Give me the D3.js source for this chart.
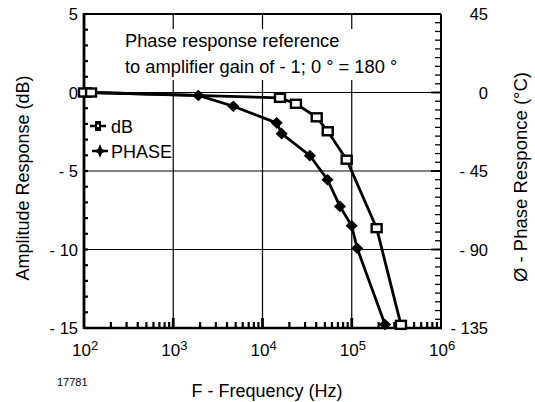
<!DOCTYPE html>
<html><head><meta charset="utf-8">
<script src="https://cdn.jsdelivr.net/npm/d3@7"></script>
<style>
html,body{margin:0;padding:0;background:#fff;}
svg{display:block;font-family:"Liberation Sans",Arial,Helvetica,sans-serif;}
</style></head>
<body>
<svg id="c" width="535" height="402"></svg>
<script>
// ---- data ----
const dbFreq = [100, 120, 15700, 23700, 40500, 53800, 87700, 190000, 356000];
const dbVals = [0, 0, -0.34, -0.72, -1.58, -2.47, -4.28, -8.64, -14.8];
const phaseFreq = [100, 120, 1910, 4710, 14400, 16400, 34000, 53500, 73800, 99800, 115000, 236000];
const phaseVals = [0, 0, -1.7, -7.9, -17.4, -23.6, -36.2, -50, -65.3, -76.4, -89.3, -133];
const xDecades = [2, 3, 4, 5, 6];
const yLeftTicks = [5, 0, -5, -10, -15];
const yLeftLabels = ["5", "0", "- 5", "- 10", "- 15"];
const yRightTicks = [45, 0, -45, -90, -135];
const yRightLabels = ["45", "0", "- 45", "- 90", "- 135"];
const noteLines = ["Phase response reference", "to amplifier gain of - 1; 0 \u00b0 = 180 \u00b0"];
const legendNames = ["dB", "PHASE"];

const svg = d3.select("#c");
const L = 84, R = 441, T = 14, B = 328;
const x = d3.scaleLog().domain([1e2, 1e6]).range([L, R]);
const y = d3.scaleLinear().domain([-15, 5]).range([B, T]);
const yp = d3.scaleLinear().domain([-135, 45]).range([B, T]);

// gridlines
const g = svg.append("g");
[1e3, 1e4, 1e5].forEach(v => g.append("line").attr("x1", x(v)).attr("x2", x(v)).attr("y1", T).attr("y2", B)
  .attr("stroke", "#000").attr("stroke-width", 1.2));
[0, -5, -10].forEach(v => g.append("line").attr("x1", L).attr("x2", R).attr("y1", y(v)).attr("y2", y(v))
  .attr("stroke", "#000").attr("stroke-width", 1.2));

// white note box
svg.append("rect").attr("x", 118).attr("y", 29).attr("width", 292).attr("height", 51).attr("fill", "#fff");
svg.append("g").selectAll("text").data(noteLines).join("text")
  .attr("x", 125).attr("y", (d, i) => 47 + i * 26)
  .attr("font-size", 18.3).attr("fill", "#000").text(d => d);

// minor ticks bottom
const minor = [];
for (let e = 2; e < 6; e++) for (let k = 2; k <= 9; k++) minor.push(k * Math.pow(10, e));
svg.append("g").selectAll("line").data(minor).join("line")
  .attr("x1", d => x(d)).attr("x2", d => x(d)).attr("y1", B).attr("y2", B - 6)
  .attr("stroke", "#000").attr("stroke-width", 2.2);
svg.append("g").selectAll("line").data([1e3, 1e4, 1e5]).join("line")
  .attr("x1", d => x(d)).attr("x2", d => x(d)).attr("y1", B).attr("y2", B - 10)
  .attr("stroke", "#000").attr("stroke-width", 2.8);
// left minor ticks every 1 dB
svg.append("g").selectAll("line").data(d3.range(-15, 6, 1)).join("line")
  .attr("x1", L).attr("x2", L + 4).attr("y1", d => y(d)).attr("y2", d => y(d))
  .attr("stroke", "#000").attr("stroke-width", 2.2);
// right minor ticks every 5 deg
svg.append("g").selectAll("line").data(d3.range(-135, 46, 5)).join("line")
  .attr("x1", R).attr("x2", R - 6).attr("y1", d => yp(d)).attr("y2", d => yp(d))
  .attr("stroke", "#000").attr("stroke-width", 1.3);
svg.append("g").selectAll("line").data(yRightTicks).join("line")
  .attr("x1", R).attr("x2", R - 10).attr("y1", d => yp(d)).attr("y2", d => yp(d))
  .attr("stroke", "#000").attr("stroke-width", 1.8);

// frame
svg.append("line").attr("x1", L).attr("x2", R).attr("y1", T).attr("y2", T).attr("stroke", "#000").attr("stroke-width", 2);
svg.append("line").attr("x1", R).attr("x2", R).attr("y1", T).attr("y2", B).attr("stroke", "#000").attr("stroke-width", 2);
svg.append("line").attr("x1", L).attr("x2", R + 1).attr("y1", B).attr("y2", B).attr("stroke", "#000").attr("stroke-width", 2.6);
svg.append("line").attr("x1", L).attr("x2", L).attr("y1", T - 1).attr("y2", B + 1).attr("stroke", "#000").attr("stroke-width", 2.8);

// data lines
const dbData = dbFreq.map((f, i) => [f, dbVals[i]]);
const phData = phaseFreq.map((f, i) => [f, phaseVals[i]]);
svg.append("path").datum(phData).attr("fill", "none").attr("stroke", "#000").attr("stroke-width", 2.8)
  .attr("d", d3.line().x(d => x(d[0])).y(d => yp(d[1])));
svg.append("path").datum(dbData).attr("fill", "none").attr("stroke", "#000").attr("stroke-width", 2.8)
  .attr("d", d3.line().x(d => x(d[0])).y(d => y(d[1])));

// phase markers
const diamond = d3.symbol().type(d3.symbolDiamond).size(70);
svg.append("g").selectAll("path").data(phData).join("path")
  .attr("transform", d => `translate(${x(d[0])},${yp(d[1])}) scale(1.35,0.75)`)
  .attr("d", diamond).attr("fill", "#000");
// dB markers
svg.append("g").selectAll("rect").data(dbData).join("rect")
  .attr("x", d => x(d[0]) - 5).attr("y", d => y(d[1]) - 4).attr("width", 10).attr("height", 8)
  .attr("fill", "#fff").attr("stroke", "#000").attr("stroke-width", 2.4);

// legend
const lg = svg.append("g");
lg.append("line").attr("x1", 90).attr("x2", 106).attr("y1", 126).attr("y2", 126).attr("stroke", "#000").attr("stroke-width", 2.5);
lg.append("rect").attr("x", 95).attr("y", 121).attr("width", 6).attr("height", 10).attr("fill", "#000");
lg.append("rect").attr("x", 97).attr("y", 124.5).attr("width", 2).attr("height", 2.5).attr("fill", "#fff");
lg.append("line").attr("x1", 92).attr("x2", 108).attr("y1", 151).attr("y2", 151).attr("stroke", "#000").attr("stroke-width", 2.5);
lg.append("path").attr("transform", "translate(100,151)")
  .attr("d", "M0,-7 L2,-2 L7,0 L2,2 L0,7 L-2,2 L-7,0 L-2,-2 Z").attr("fill", "#000");
lg.selectAll("text").data(legendNames).join("text")
  .attr("x", 111).attr("y", (d, i) => 133 + i * 25).attr("font-size", 18).text(d => d);

// left tick labels
svg.append("g").selectAll("text").data(yLeftTicks).join("text")
  .attr("x", 78).attr("y", d => y(d) + 6).attr("text-anchor", "end").attr("font-size", 16.5)
  .text((d, i) => yLeftLabels[i]);
// right tick labels
svg.append("g").selectAll("text").data(yRightTicks).join("text")
  .attr("x", 488).attr("y", d => yp(d) + 6).attr("text-anchor", "end").attr("font-size", 16.5)
  .text((d, i) => yRightLabels[i]);
// bottom tick labels
const bt = svg.append("g").selectAll("text").data(xDecades).join("text")
  .attr("x", d => x(Math.pow(10, d)) - 12).attr("y", 356).attr("font-size", 17);
bt.append("tspan").text("10");
bt.append("tspan").attr("dy", -6).attr("font-size", 13).text(d => d);

// axis titles
svg.append("text").attr("transform", "translate(29,178) rotate(-90)").attr("text-anchor", "middle")
  .attr("font-size", 18).text("Amplitude Response (dB)");
svg.append("text").attr("transform", "translate(527,177) rotate(-90)").attr("text-anchor", "middle")
  .attr("font-size", 18.5).text("\u00d8 - Phase Responce (\u00b0C)");
svg.append("text").attr("x", 267).attr("y", 397).attr("text-anchor", "middle")
  .attr("font-size", 18).text("F - Frequency (Hz)");
svg.append("text").attr("x", 57).attr("y", 386).attr("font-size", 11).text("17781");
</script>
</body></html>
